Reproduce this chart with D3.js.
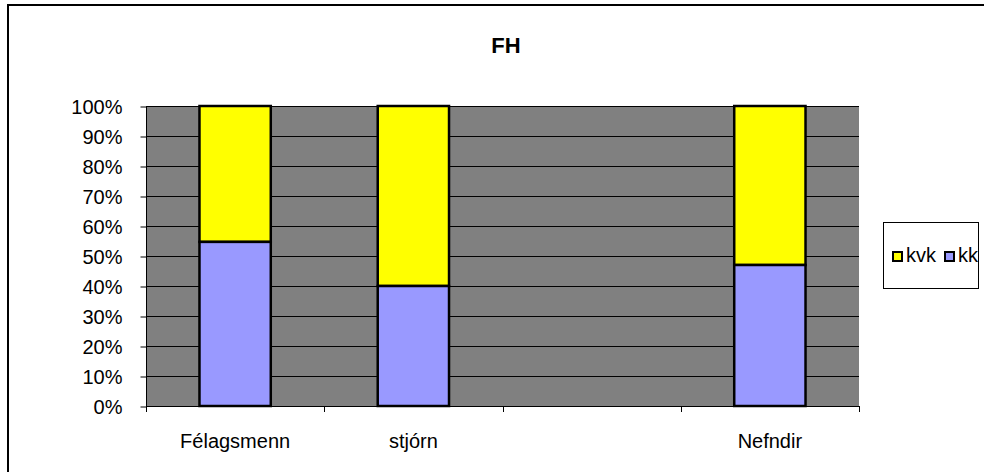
<!DOCTYPE html>
<html><head><meta charset="utf-8">
<script src="https://cdn.jsdelivr.net/npm/d3@7"></script>
<style>body{margin:0;background:#fff}svg{display:block}text{font-family:Arial,"Liberation Sans",sans-serif}</style>
</head><body>
<svg id="c" width="984" height="472"></svg>
<script>
const categories = ["Félagsmenn", "stjórn", "", "Nefndir"];
const kk = [0.547, 0.40, null, 0.47];
const kvk = [0.453, 0.60, null, 0.53];
const yTicks = [0,0.1,0.2,0.3,0.4,0.5,0.6,0.7,0.8,0.9,1];
const seriesNames = ["kvk", "kk"];
const colors = {kvk: "#ffff00", kk: "#9999ff"};

const svg = d3.select("#c");
svg.append("rect").attr("x",8).attr("y",5).attr("width",990).attr("height",480)
  .attr("fill","#fff").attr("stroke","#000").attr("stroke-width",2);

const L=146, R=859, T=106, B=406;
const x = d3.scaleBand().domain(categories.map((c,i)=>i)).range([L,R]).paddingInner(0.6).paddingOuter(0.3);
const xEdge = d3.scaleLinear().domain([0,categories.length]).range([L,R]);
const y = d3.scaleLinear().domain([0,1]).range([B,T]);

svg.append("rect").attr("x",L).attr("y",T).attr("width",R-L).attr("height",B-T).attr("fill","#808080");

svg.append("g").selectAll("line").data(yTicks.slice(1)).join("line")
  .attr("x1",L).attr("x2",R).attr("y1",d=>Math.round(y(d))+0.5).attr("y2",d=>Math.round(y(d))+0.5)
  .attr("stroke","#000").attr("stroke-width",1);

// y axis
const ya = d3.axisLeft(y).tickValues(yTicks).tickFormat(d3.format(".0%")).tickSize(6).tickPadding(18);
const gy = svg.append("g").attr("transform",`translate(${L+0.5},0.5)`).call(ya);
gy.selectAll("text").attr("font-size",20).attr("fill","#000").attr("dy","0.35em");
gy.selectAll("line,path").attr("stroke","#000");
gy.select(".domain").attr("d",`M0,${T}V${B}`);

// x axis
const gx = svg.append("g");
gx.append("line").attr("x1",L).attr("x2",R).attr("y1",B+0.5).attr("y2",B+0.5).attr("stroke","#000");
gx.selectAll(".tk").data(d3.range(categories.length+1)).join("line")
  .attr("x1",d=>Math.round(xEdge(d))+0.5).attr("x2",d=>Math.round(xEdge(d))+0.5)
  .attr("y1",B).attr("y2",B+6).attr("stroke","#000");
gx.selectAll("text").data(categories).join("text")
  .attr("x",(d,i)=>x(i)+x.bandwidth()/2).attr("y",448).attr("text-anchor","middle")
  .attr("font-size",20).text(d=>d);

// bars
const bars = svg.append("g");
categories.forEach((c,i)=>{
  if(kk[i]==null) return;
  const x0 = x(i), w = x.bandwidth();
  bars.append("rect").attr("x",x0).attr("width",w).attr("y",y(kk[i]+kvk[i])).attr("height",y(kk[i])-y(kk[i]+kvk[i]))
    .attr("fill",colors.kvk).attr("stroke","#000").attr("stroke-width",2.5);
  bars.append("rect").attr("x",x0).attr("width",w).attr("y",y(kk[i])).attr("height",y(0)-y(kk[i]))
    .attr("fill",colors.kk).attr("stroke","#000").attr("stroke-width",2.5);
});

// title
svg.append("text").attr("x",506).attr("y",53).attr("text-anchor","middle").attr("font-size",22).attr("font-weight","bold").text("FH");

// legend
const lg = svg.append("g");
lg.append("rect").attr("x",883.5).attr("y",222.5).attr("width",95).attr("height",66).attr("fill","#fff").attr("stroke","#000");
const lx = [893, 945];
seriesNames.forEach((s,i)=>{
  lg.append("rect").attr("x",lx[i]).attr("y",252).attr("width",9).attr("height",9).attr("fill",colors[s]).attr("stroke","#000").attr("stroke-width",2);
  lg.append("text").attr("x",lx[i]+13).attr("y",262).attr("font-size",20).text(s);
});
</script>
</body></html>
